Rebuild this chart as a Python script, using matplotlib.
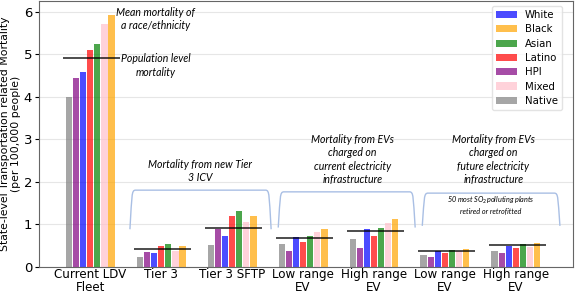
import numpy as np
import matplotlib
matplotlib.use("Agg")
import matplotlib.pyplot as plt
from matplotlib.path import Path
from matplotlib.patches import PathPatch

# scenario labels on the x axis
scenarios = ["Current LDV\nFleet", "Tier 3", "Tier 3 SFTP", "Low range\nEV",
             "High range\nEV", "Low range\nEV", "High range\nEV"]

# mortality per race/ethnicity (per 100,000 people)
native = [4.00, 0.23, 0.52, 0.53, 0.66, 0.27, 0.38]
hpi    = [4.43, 0.35, 0.88, 0.37, 0.45, 0.22, 0.31]
white  = [4.57, 0.31, 0.72, 0.69, 0.88, 0.38, 0.49]
latino = [5.10, 0.48, 1.20, 0.58, 0.73, 0.32, 0.43]
asian  = [5.25, 0.53, 1.31, 0.72, 0.91, 0.39, 0.53]
mixed  = [5.70, 0.37, 1.04, 0.81, 1.03, 0.38, 0.47]
black  = [5.93, 0.49, 1.19, 0.88, 1.13, 0.41, 0.56]
population = [4.92, 0.41, 0.92, 0.67, 0.85, 0.38, 0.50]

bars = [("Native", native, "gray"), ("HPI", hpi, "purple"),
        ("White", white, "blue"), ("Latino", latino, "red"),
        ("Asian", asian, "green"), ("Mixed", mixed, "pink"),
        ("Black", black, "orange")]
legend_order = ["White", "Black", "Asian", "Latino", "HPI", "Mixed", "Native"]

fig, ax = plt.subplots(figsize=(5.75, 2.94), dpi=100)
fig.subplots_adjust(left=0.068, right=0.996, top=0.998, bottom=0.093)

x = np.arange(len(scenarios))
w = 0.1
handles = {}
for i, (name, vals, col) in enumerate(bars):
    h = ax.bar(x + (i - 3) * w, vals, w * 0.9, color=col, alpha=0.7,
               label=name, zorder=2)
    handles[name] = h

ax.hlines(population, x - 0.38, x + 0.42, color="black", alpha=0.7,
          lw=1.4, zorder=3)

# brackets over scenario groups
def bracket(x0, x1, ybot, ytop, r=0.08, ry=0.12):
    verts = [(x0, ybot), (x0 + 0.03, ytop - ry), (x0 + 0.02, ytop), (x0 + r, ytop),
             (x1 - r, ytop), (x1 - 0.02, ytop), (x1 - 0.03, ytop - ry), (x1, ybot)]
    codes = [Path.MOVETO, Path.CURVE4, Path.CURVE4, Path.CURVE4,
             Path.LINETO, Path.CURVE4, Path.CURVE4, Path.CURVE4]
    ax.add_patch(PathPatch(Path(verts, codes), fc="none", ec="#a9bfe4",
                           lw=1.0, zorder=1))

bracket(0.56, 2.55, 0.88, 1.80)
bracket(2.65, 4.58, 0.92, 1.76)
bracket(4.68, 6.62, 0.96, 1.73)

itxt = dict(family="Lato", style="italic", fontsize=7.6, ha="center",
            va="center", linespacing=1.25)
ax.text(0.92, 5.83, "Mean mortality of\na race/ethnicity", **itxt)
ax.text(0.92, 4.73, "Population level\nmortality", **itxt)
ax.text(1.55, 2.25, "Mortality from new Tier\n3 ICV", **itxt)
ax.text(3.70, 2.52, "Mortality from EVs\ncharged on\ncurrent electricity\ninfrastructure", **itxt)
ax.text(5.68, 2.52, "Mortality from EVs\ncharged on\nfuture electricity\ninfrastructure", **itxt)
ax.text(5.65, 1.47, "50 most SO$_2$polluting plants\nretired or retrofitted",
        family="Lato", style="italic", fontsize=5.2, ha="center", va="center")

ax.set_xlim(-0.72, 6.8)
ax.set_ylim(0, 6.26)
ax.set_xticks(x)
ax.set_xticklabels(scenarios, fontsize=8.6, linespacing=1.0)
ax.set_yticks(range(7))
ax.tick_params(axis="y", labelsize=9.5, length=3, pad=2)
ax.tick_params(axis="x", length=0, pad=1)
ax.set_ylabel("State-level Transportation related Mortality\n(per 100,000 people)",
              fontsize=7.8, labelpad=2, linespacing=1.1)
ax.yaxis.grid(True, color="#e6e6e6", lw=0.8, zorder=0)
ax.set_axisbelow(True)
for s in ax.spines.values():
    s.set_color("#666666")

ax.legend([handles[n] for n in legend_order], legend_order, loc="upper right",
          fontsize=7.3, frameon=True, edgecolor="#dddddd", handlelength=2.0,
          labelspacing=0.42, borderpad=0.45, bbox_to_anchor=(0.99, 1.0))

fig.savefig("out.png", dpi=100)
